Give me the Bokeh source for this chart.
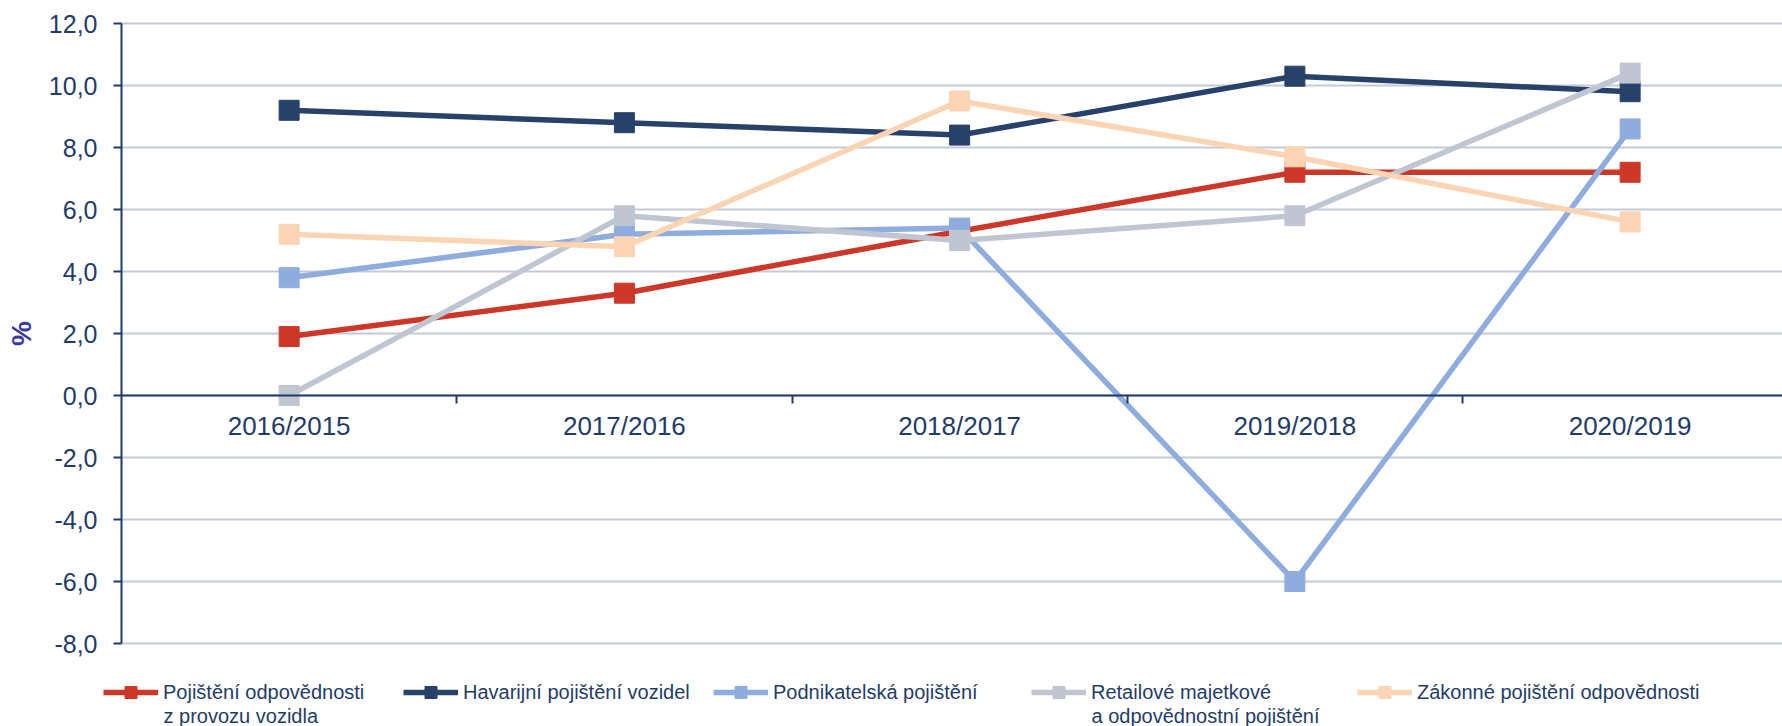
from bokeh.plotting import figure
from bokeh.models import Range1d, FixedTicker, Legend, LegendItem, Label
from bokeh.embed import file_html
from bokeh.resources import INLINE

# ---- data ----
categories = ["2016/2015", "2017/2016", "2018/2017", "2019/2018", "2020/2019"]

name_odpovednost = "Pojištění odpovědnosti\nz provozu vozidla"
name_havarijni = "Havarijní pojištění vozidel"
name_podnikatelska = "Podnikatelská pojištění"
name_retailove = "Retailové majetkové\na odpovědnostní pojištění"
name_zakonne = "Zákonné pojištění odpovědnosti"

odpovednost = [1.9, 3.3, 5.3, 7.2, 7.2]
havarijni = [9.2, 8.8, 8.4, 10.3, 9.8]
podnikatelska = [3.8, 5.2, 5.4, -6.0, 8.6]
retailove = [0.0, 5.8, 5.0, 5.8, 10.4]
zakonne = [5.2, 4.8, 9.5, 7.7, 5.6]

y_ticks = [-8, -6, -4, -2, 0, 2, 4, 6, 8, 10, 12]
y_tick_labels = [f"{t:.1f}".replace(".", ",") for t in y_ticks]

# ---- styles / layout ----
C_RED = "#CC3728"
C_NAVY = "#27416A"
C_BLUE = "#8EACDE"
C_GRAY = "#BFC6D1"
C_PEACH = "#FBD4B3"
C_GRID = "#C3CAD6"
C_AXIS = "#1F3C68"
C_TEXT = "#1F3C68"
FONT = "Liberation Sans"

W, H = 1782, 726
LEFT, TOP, FRAME_H = 121, 23, 620      # plot area position (px)
step = 335.25                          # px per category
y_min, y_max = y_ticks[0], y_ticks[-1]
ppu = FRAME_H / (y_max - y_min)        # px per y unit
x_start = -0.5 - LEFT / step
x_end = x_start + W / step
y_top = y_max + TOP / ppu
y_bot = y_min - (H - TOP - FRAME_H) / ppu

legend_x = [103, 403, 713, 1031, 1357]   # left edge of each legend entry (px)
GLYPH_W, GLYPH_H, STANDOFF = 55, 30, 5
LINE1_Y, LINE2_Y = 692, 715              # legend text line centres (px from top)

p = figure(width=W, height=H, output_backend="svg", toolbar_location=None,
           x_range=Range1d(x_start, x_end), y_range=Range1d(y_bot, y_top),
           min_border_left=0, min_border_top=0, min_border_right=0, min_border_bottom=0)
p.outline_line_color = None
p.background_fill_color = "white"
p.border_fill_color = "white"
p.xgrid.visible = False
p.ygrid.visible = False

# horizontal grid lines across the plot area only
p.segment(x0=-0.5, x1=x_end, y0=y_ticks, y1=y_ticks, line_color=C_GRID, line_width=2)

# y axis at left edge of the category area
ya = p.yaxis[0]
ya.fixed_location = -0.5
ya.bounds = (y_min, y_max)
ya.ticker = FixedTicker(ticks=y_ticks)
ya.major_label_overrides = {t: l for t, l in zip(y_ticks, y_tick_labels)}
ya.axis_line_color = C_AXIS
ya.axis_line_width = 2
ya.major_tick_line_color = C_AXIS
ya.major_tick_line_width = 2
ya.major_tick_out = 8
ya.major_tick_in = 0
ya.minor_tick_line_color = None
ya.major_label_standoff = 16
ya.major_label_text_font = FONT
ya.major_label_text_font_size = "25px"
ya.major_label_text_color = C_TEXT
ya.axis_label = "%"
ya.axis_label_text_font = FONT
ya.axis_label_text_font_size = "28px"
ya.axis_label_text_font_style = "bold"
ya.axis_label_text_color = "#3A3A9E"
ya.axis_label_standoff = 9

# x axis placed at y = 0
xs = list(range(len(categories)))
xa = p.xaxis[0]
xa.fixed_location = 0
xa.bounds = (-0.5, x_end)
xa.ticker = FixedTicker(ticks=xs, minor_ticks=[i + 0.5 for i in xs])
xa.major_label_overrides = {i: c for i, c in zip(xs, categories)}
xa.axis_line_color = C_AXIS
xa.axis_line_width = 2
xa.major_tick_line_color = None
xa.major_tick_out = 0
xa.major_tick_in = 0
xa.minor_tick_line_color = C_AXIS
xa.minor_tick_line_width = 2
xa.minor_tick_out = 8
xa.minor_tick_in = 0
xa.major_label_standoff = 7
xa.major_label_text_font = FONT
xa.major_label_text_font_size = "26px"
xa.major_label_text_color = C_TEXT

# series
series = [
    (name_odpovednost, odpovednost, C_RED),
    (name_havarijni, havarijni, C_NAVY),
    (name_podnikatelska, podnikatelska, C_BLUE),
    (name_retailove, retailove, C_GRAY),
    (name_zakonne, zakonne, C_PEACH),
]
renderers = []
for name, vals, col in series:
    lr = p.line(xs, vals, line_color=col, line_width=5.5)
    sr = p.scatter(xs, vals, marker="square", size=20, fill_color=col, line_color=col)
    renderers.append((lr, sr))

# legend: one entry per series, first line beside the glyph, second line below
for (name, vals, col), (lr, sr), lx in zip(series, renderers, legend_x):
    lines = name.split("\n")
    lg = Legend(items=[LegendItem(label=lines[0], renderers=[lr, sr])],
                orientation="horizontal",
                location=(lx, H - LINE1_Y - GLYPH_H / 2),
                label_text_font=FONT, label_text_font_size="20px",
                label_text_color=C_TEXT, label_height=GLYPH_H,
                glyph_width=GLYPH_W, glyph_height=GLYPH_H, label_standoff=STANDOFF,
                padding=0, margin=0, background_fill_alpha=0, border_line_alpha=0)
    p.add_layout(lg, "center")
    if len(lines) > 1:
        p.add_layout(Label(x=lx + GLYPH_W + STANDOFF, y=H - LINE2_Y,
                           x_units="screen", y_units="screen",
                           text=lines[1], text_font=FONT, text_font_size="20px",
                           text_color=C_TEXT, text_baseline="middle", text_align="left"))

open("out.html", "w").write(file_html(p, INLINE))
